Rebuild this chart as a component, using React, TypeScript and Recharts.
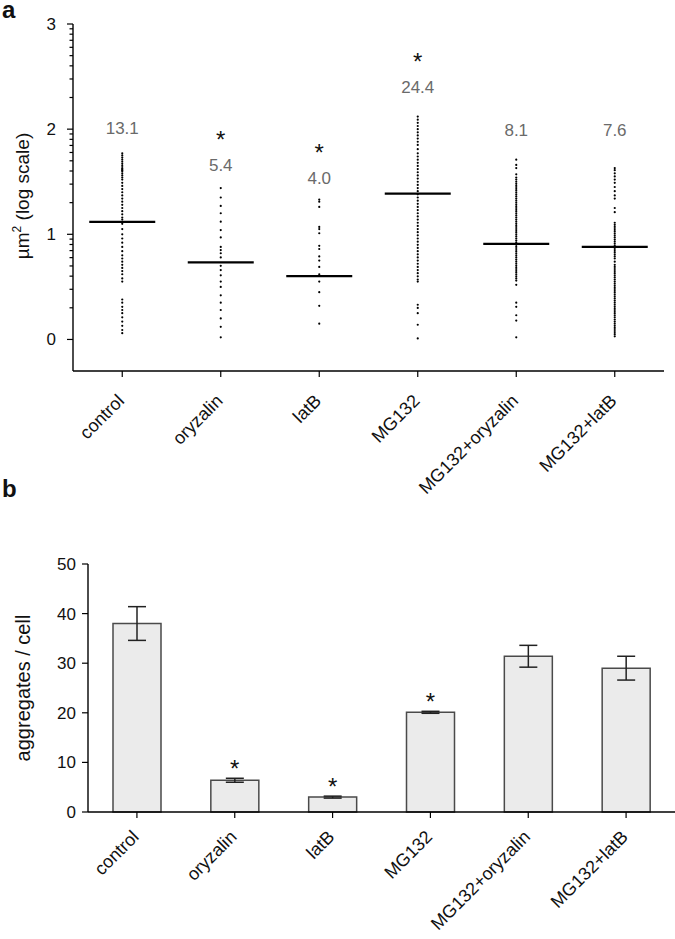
import React from "react";
import {
  Bar,
  BarChart,
  ErrorBar,
  ReferenceDot,
  ReferenceLine,
  Scatter,
  ScatterChart,
  XAxis,
  YAxis,
} from "recharts";

const FONT = "'Liberation Sans', Arial, Helvetica, sans-serif";

const groups = ["control", "oryzalin", "latB", "MG132", "MG132+oryzalin", "MG132+latB"];

// panel a: aggregate size, log10(µm²), one list per group
const controlLog = [
  1.77, 1.75, 1.73, 1.71, 1.69, 1.67, 1.65, 1.63, 1.62, 1.61, 1.6, 1.58, 1.56, 1.54, 1.52, 1.49,
  1.46, 1.43, 1.4, 1.37, 1.34, 1.31, 1.28, 1.25, 1.22, 1.19, 1.16, 1.14, 1.1, 1.05, 1.0, 0.96,
  0.92, 0.88, 0.84, 0.8, 0.77, 0.74, 0.71, 0.68, 0.65, 0.62, 0.58, 0.55, 0.38, 0.35, 0.31, 0.28,
  0.25, 0.21, 0.17, 0.13, 0.09, 0.06,
];
const oryzalinLog = [
  1.44, 1.35, 1.27, 1.2, 1.12, 1.04, 0.97, 0.88, 0.85, 0.82, 0.78, 0.7, 0.66, 0.61, 0.55, 0.5,
  0.42, 0.35, 0.28, 0.2, 0.12, 0.02,
];
const latBLog = [
  1.33, 1.31, 1.26, 1.07, 1.05, 1.01, 0.89, 0.86, 0.79, 0.75, 0.69, 0.62, 0.55, 0.45, 0.32, 0.15,
];
const mg132Log = [
  2.12, 2.09, 2.06, 2.03, 2.0, 1.97, 1.94, 1.91, 1.88, 1.85, 1.81, 1.77, 1.74, 1.71, 1.68, 1.65,
  1.62, 1.59, 1.56, 1.53, 1.5, 1.47, 1.44, 1.41, 1.38, 1.35, 1.32, 1.29, 1.26, 1.23, 1.2, 1.17,
  1.14, 1.11, 1.08, 1.05, 1.02, 0.99, 0.96, 0.93, 0.9, 0.87, 0.84, 0.81, 0.78, 0.75, 0.72, 0.69,
  0.66, 0.63, 0.6, 0.57, 0.55, 0.33, 0.3, 0.25, 0.14, 0.01,
];
const mg132OryLog = [
  1.71, 1.66, 1.63, 1.57, 1.54, 1.52, 1.5, 1.48, 1.46, 1.44, 1.42, 1.4, 1.38, 1.36, 1.34, 1.32,
  1.3, 1.28, 1.26, 1.24, 1.22, 1.2, 1.18, 1.16, 1.14, 1.12, 1.1, 1.08, 1.06, 1.04, 1.02, 1.0, 0.98,
  0.96, 0.94, 0.92, 0.9, 0.88, 0.86, 0.84, 0.82, 0.8, 0.78, 0.76, 0.74, 0.72, 0.7, 0.68, 0.66,
  0.64, 0.62, 0.6, 0.58, 0.56, 0.52, 0.35, 0.31, 0.23, 0.18, 0.02,
];
const mg132LatBLog = [
  1.63, 1.61, 1.58, 1.55, 1.52, 1.49, 1.45, 1.41, 1.37, 1.34, 1.25, 1.21, 1.11, 1.09, 1.07, 1.05,
  1.03, 1.01, 0.99, 0.97, 0.95, 0.93, 0.91, 0.89, 0.87, 0.85, 0.83, 0.81, 0.79, 0.77, 0.74, 0.71,
  0.69, 0.67, 0.65, 0.63, 0.61, 0.59, 0.57, 0.55, 0.53, 0.51, 0.49, 0.47, 0.45, 0.43, 0.41, 0.39,
  0.37, 0.35, 0.33, 0.31, 0.29, 0.27, 0.25, 0.23, 0.21, 0.19, 0.17, 0.15, 0.13, 0.11, 0.09, 0.07,
  0.05, 0.03,
];
const sizeLists = [controlLog, oryzalinLog, latBLog, mg132Log, mg132OryLog, mg132LatBLog];

const meanSize = ["13.1", "5.4", "4.0", "24.4", "8.1", "7.6"];
const meanLabelLevel = [2.01, 1.66, 1.54, 2.4, 1.99, 1.99];
const sigA = [false, true, true, true, false, false];

// panel b: aggregates per cell
const aggMean = [38.0, 6.4, 3.0, 20.1, 31.4, 29.0];
const aggErr = [3.4, 0.4, 0.2, 0.2, 2.2, 2.4];
const sigB = [false, true, true, true, false, false];
const aggTicks = [0, 10, 20, 30, 40, 50];

const logTicks: number[] = [];
for (let d = 0; d < 3; d++) {
  logTicks.push(d);
  for (let k = 2; k < 10; k++) logTicks.push(d + Math.log10(k));
}
logTicks.push(3);

const points = sizeLists.flatMap((list, i) => list.map((y) => ({ x: i + 0.5, y })));
const barData = groups.map((name, i) => ({ name, value: aggMean[i], err: aggErr[i] }));

function LogTick(props: any) {
  const { x, y, payload } = props;
  const v = payload.value;
  const major = Math.abs(v - Math.round(v)) < 1e-6;
  return (
    <g>
      <line x1={x - (major ? 6 : 3.5)} y1={y} x2={x} y2={y} stroke="#000" strokeWidth={1.2} />
      {major && (
        <text x={x - 17} y={y + 6} textAnchor="end" fontSize={17} fill="#111" fontFamily={FONT}>
          {Math.round(v)}
        </text>
      )}
    </g>
  );
}

function NumTick(props: any) {
  const { x, y, payload } = props;
  return (
    <text x={x} y={y + 6} textAnchor="end" fontSize={17} fill="#111" fontFamily={FONT}>
      {payload.value}
    </text>
  );
}

const slantTick = (label: (v: any) => string, size: number, dx: number, dy: number) => (props: any) => {
  const { x, y, payload } = props;
  return (
    <g transform={`translate(${x + dx},${y + dy})`}>
      <text textAnchor="end" transform="rotate(-45)" fontSize={size} fill="#111" fontFamily={FONT}>
        {label(payload.value)}
      </text>
    </g>
  );
};

const dot = (p: any) => <circle cx={p.cx} cy={p.cy} r={1.1} fill="#000" />;

export default function App() {
  return (
    <div style={{ position: "absolute", left: 0, top: 0, width: 675, height: 939, background: "#fff" }}>
      <div style={{ position: "absolute", left: 0, top: 0 }}>
        <ScatterChart width={675} height={540} margin={{ top: 24, right: 11, left: 0, bottom: 0 }}>
          <XAxis
            type="number"
            dataKey="x"
            domain={[0, 6]}
            ticks={groups.map((_, i) => i + 0.5)}
            interval={0}
            height={169}
            tickSize={6}
            tickLine={{ stroke: "#000", strokeWidth: 1.2 }}
            axisLine={{ stroke: "#000", strokeWidth: 1.4 }}
            tick={slantTick((v) => groups[Math.floor(v)], 18, 3, 23)}
          />
          <YAxis
            type="number"
            dataKey="y"
            domain={[-0.3, 3]}
            ticks={logTicks}
            interval={0}
            allowDataOverflow
            width={73}
            tickSize={0}
            tickMargin={0}
            tickLine={false}
            axisLine={{ stroke: "#000", strokeWidth: 1.4 }}
            tick={<LogTick />}
          />
          <Scatter data={points} isAnimationActive={false} shape={dot} />
          {meanSize.map((m, i) => {
            const med = Math.log10(parseFloat(m));
            return (
              <ReferenceLine
                key={`med-${i}`}
                segment={[
                  { x: i + 0.5 - 0.335, y: med },
                  { x: i + 0.5 + 0.335, y: med },
                ]}
                stroke="#000"
                strokeWidth={2.2}
              />
            );
          })}
          {meanSize.map((m, i) => (
            <ReferenceDot
              key={`lab-${i}`}
              x={i + 0.5}
              y={meanLabelLevel[i]}
              r={0}
              shape={(p: any) => (
                <g>
                  <text x={p.cx} y={p.cy + 6} textAnchor="middle" fontSize={17} fill="#6a6a6a" fontFamily={FONT}>
                    {m}
                  </text>
                  {sigA[i] && (
                    <text x={p.cx} y={p.cy - 17} textAnchor="middle" fontSize={24} fill="#111" fontFamily={FONT}>
                      *
                    </text>
                  )}
                </g>
              )}
            />
          ))}
        </ScatterChart>
      </div>
      <div style={{ position: "absolute", left: 0, top: 470 }}>
        <BarChart width={675} height={469} data={barData} margin={{ top: 94, right: 0, left: 0, bottom: 0 }}>
          <XAxis
            dataKey="name"
            height={127}
            interval={0}
            tickSize={6}
            tickLine={{ stroke: "#000", strokeWidth: 1.2 }}
            axisLine={{ stroke: "#000", strokeWidth: 1.4 }}
            tick={slantTick((v) => v, 18, 3, 18)}
          />
          <YAxis
            type="number"
            domain={[0, 50]}
            ticks={aggTicks}
            interval={0}
            width={88}
            tickSize={6}
            tickMargin={6}
            tickLine={{ stroke: "#000", strokeWidth: 1.2 }}
            axisLine={{ stroke: "#000", strokeWidth: 1.4 }}
            tick={<NumTick />}
          />
          <Bar dataKey="value" barSize={48} fill="#ebebeb" stroke="#4a4a4a" strokeWidth={1.5} isAnimationActive={false}>
            <ErrorBar dataKey="err" width={9} stroke="#222" strokeWidth={1.5} />
          </Bar>
          {groups.map((g, i) =>
            sigB[i] ? (
              <ReferenceDot
                key={`st-${i}`}
                x={g}
                y={aggMean[i] + aggErr[i]}
                r={0}
                shape={(p: any) => (
                  <text x={p.cx} y={p.cy - 1} textAnchor="middle" fontSize={24} fill="#111" fontFamily={FONT}>
                    *
                  </text>
                )}
              />
            ) : null
          )}
        </BarChart>
      </div>
      <svg width={675} height={939} style={{ position: "absolute", left: 0, top: 0, pointerEvents: "none" }}>
        <text x={2} y={18} fontSize={24} fontWeight="bold" fill="#111" fontFamily={FONT}>
          a
        </text>
        <text x={2} y={497} fontSize={24} fontWeight="bold" fill="#111" fontFamily={FONT}>
          b
        </text>
        <text
          transform="translate(29,196) rotate(-90)"
          textAnchor="middle"
          fontSize={19}
          fill="#111"
          fontFamily={FONT}
        >
          µm<tspan fontSize={12} dy={-8}>2</tspan>
          <tspan dy={8}> (log scale)</tspan>
        </text>
        <text
          transform="translate(30,688) rotate(-90)"
          textAnchor="middle"
          fontSize={20}
          fill="#111"
          fontFamily={FONT}
        >
          aggregates / cell
        </text>
      </svg>
    </div>
  );
}
